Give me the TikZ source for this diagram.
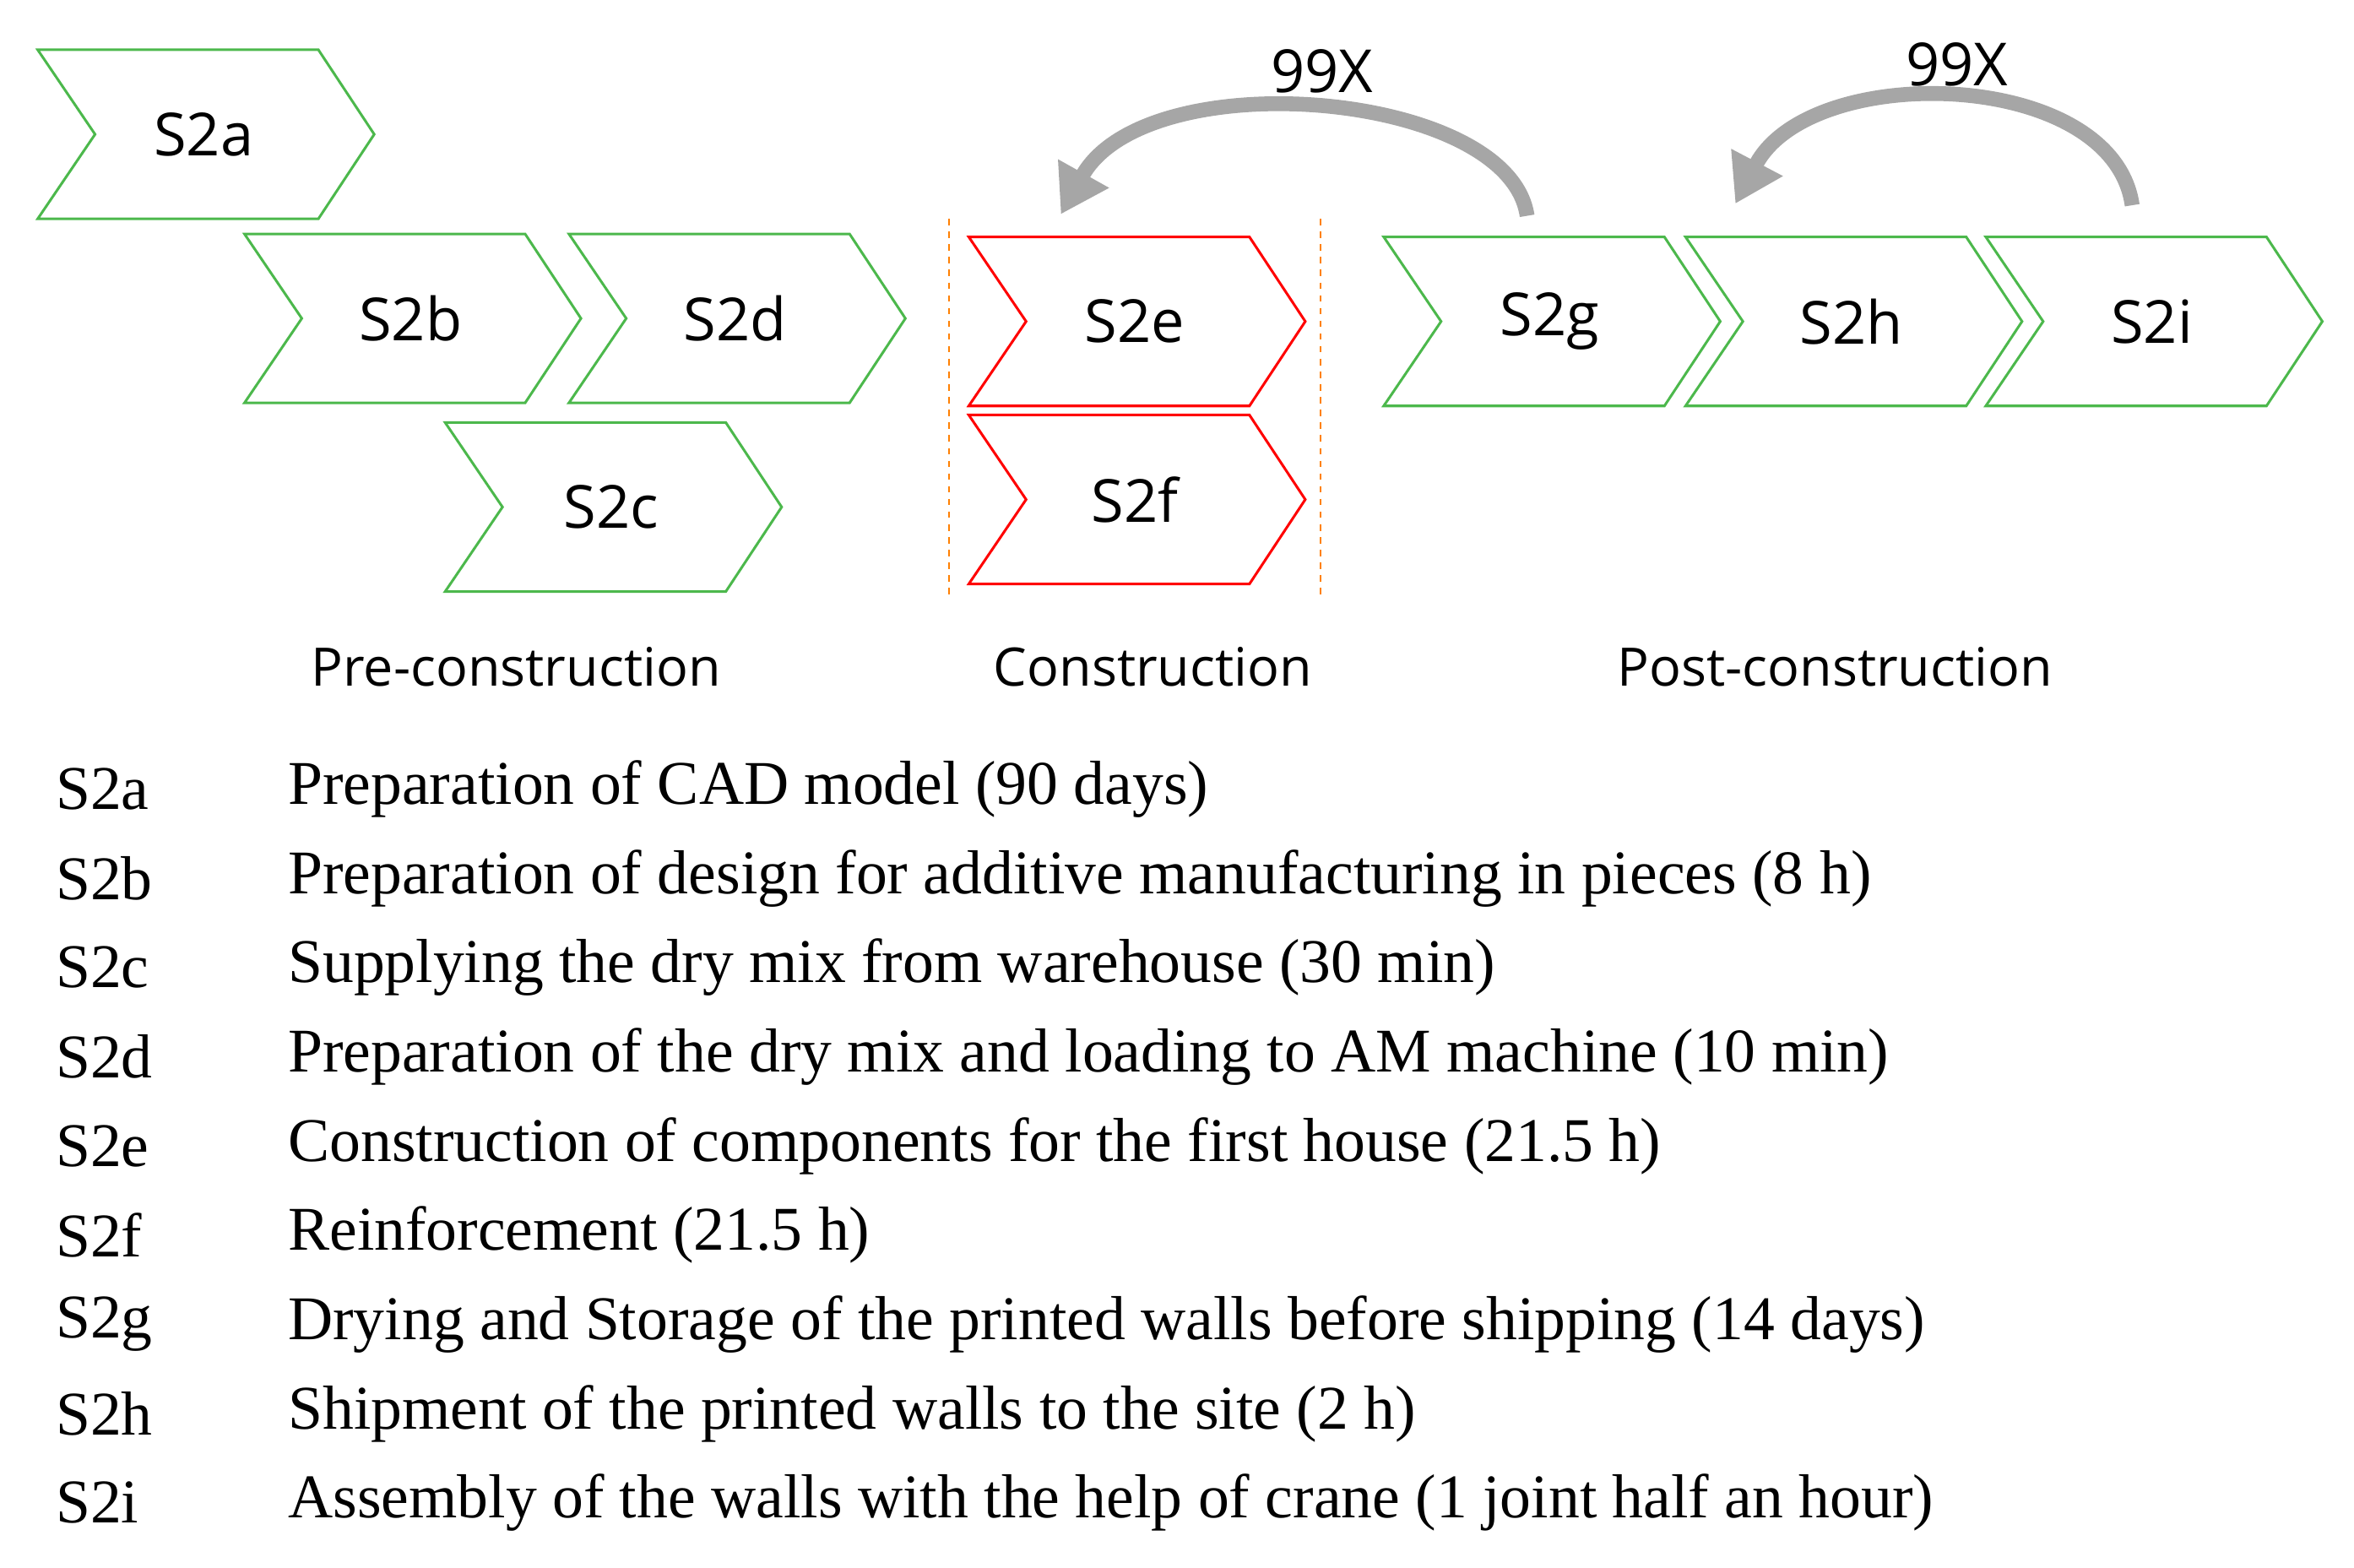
\documentclass[tikz,border=0pt]{standalone}
\usepackage{fontspec}
\setmainfont{Liberation Serif}
\newfontfamily\osans{Open Sans}
\usetikzlibrary{arrows.meta}
\begin{document}
\begin{tikzpicture}[x=0.025cm,y=-0.025cm,
 chev/.style={line width=1.2pt},
 g/.style={chev,draw=green!60!black!70!white},
 r/.style={chev,draw=red},
 lab/.style={font=\osans\fontsize{28}{30}\selectfont},
 ph/.style={font=\osans\fontsize{25}{28}\selectfont},
 it/.style={anchor=west,font=\fontsize{29.3}{31}\selectfont},
 arr/.style={line width=7pt,draw=gray!70,-{Triangle[length=22pt,width=26pt]}}]
\useasboundingbox (0,0) rectangle (1560,1039);
\newcommand\chv[5]{% style, name, x, y, label
 \draw[#1] (#3,#4) -- ++(186,0) -- ++(37,56) -- ++(-37,56) -- ++(-186,0) -- ++(38,-56) -- cycle;
 \node[lab] (#2) at (#3+110,#4+56) {#5};}
\chv{g}{a}{25}{33}{S2a}
\chv{g}{b}{162}{155}{S2b}
\chv{g}{d}{377}{155}{S2d}
\chv{g}{c}{295}{280}{S2c}
\chv{r}{e}{642}{157}{S2e}
\chv{r}{f}{642}{275}{S2f}
\chv{g}{gg}{917}{157}{S2g}
\chv{g}{h}{1117}{157}{S2h}
\chv{g}{i}{1316}{157}{S2i}
\draw[orange,dashed,line width=0.8pt] (629,145) -- (629,395);
\draw[orange,dashed,line width=0.8pt] (875,145) -- (875,395);
\coordinate (s1) at (1012,143); \coordinate (e1) at (703,142);
\draw[arr] (s1) .. controls (1000,60) and (760,40) .. (e1);
\coordinate (s2) at (1413,136); \coordinate (e2) at (1150,135);
\draw[arr] (s2) .. controls (1400,45) and (1200,40) .. (e2);
\node[lab] (x1) at (876,47) {99X};
\node[lab] (x2) at (1297,43) {99X};
\node[ph] (p1) at (342,442) {Pre-construction};
\node[ph] (p2) at (764,442) {Construction};
\node[ph] (p3) at (1216,442) {Post-construction};
\foreach \k/\t [count=\n from 0] in {S2a/Preparation of CAD model (90 days),
 S2b/Preparation of design for additive manufacturing in pieces (8 h),
 S2c/Supplying the dry mix from warehouse (30 min),
 S2d/Preparation of the dry mix and loading to AM machine (10 min),
 S2e/Construction of components for the first house (21.5 h),
 S2f/Reinforcement (21.5 h),
 S2g/Drying and Storage of the printed walls before shipping (14 days),
 S2h/Shipment of the printed walls to the site (2 h),
 S2i/Assembly of the walls with the help of crane (1 joint half an hour)}{
 \node[it] (k\n) at (32,{523+59.1*\n}) {\k};
 \node[it] (t\n) at (186,{523+59.1*\n}) {\t};}
\end{tikzpicture}
\end{document}
